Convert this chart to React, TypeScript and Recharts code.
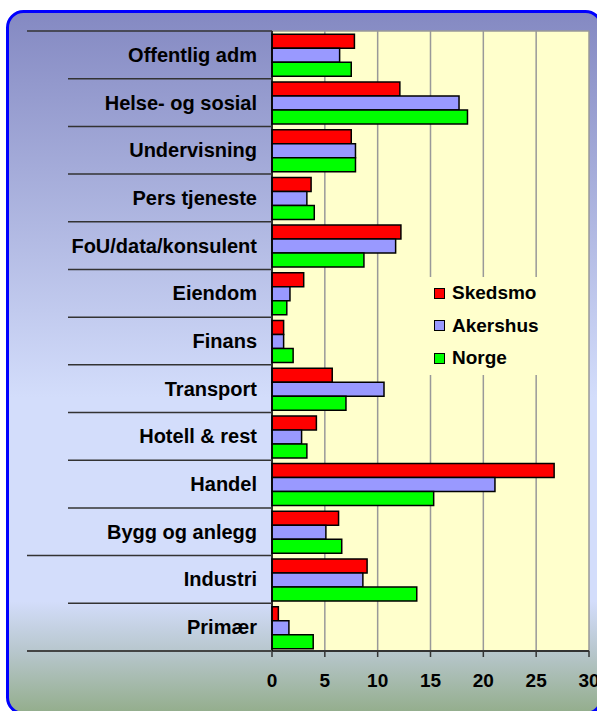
import { Bar, BarChart, CartesianGrid, Legend, XAxis, YAxis } from "recharts";

const categories = [
  "Offentlig adm",
  "Helse- og sosial",
  "Undervisning",
  "Pers tjeneste",
  "FoU/data/konsulent",
  "Eiendom",
  "Finans",
  "Transport",
  "Hotell & rest",
  "Handel",
  "Bygg og anlegg",
  "Industri",
  "Primær",
];
const skedsmo = [7.8, 12.1, 7.5, 3.7, 12.2, 3.0, 1.1, 5.7, 4.2, 26.7, 6.3, 9.0, 0.6];
const akershus = [6.4, 17.7, 7.9, 3.3, 11.7, 1.7, 1.1, 10.6, 2.8, 21.1, 5.1, 8.6, 1.6];
const norge = [7.5, 18.5, 7.9, 4.0, 8.7, 1.4, 2.0, 7.0, 3.3, 15.3, 6.6, 13.7, 3.9];
const xTicks = [0, 5, 10, 15, 20, 25, 30];

const series = [
  { key: "skedsmo", name: "Skedsmo", color: "#FF0000" },
  { key: "akershus", name: "Akershus", color: "#9999FF" },
  { key: "norge", name: "Norge", color: "#00FF00" },
];

const data = categories.map((name, i) => ({
  name,
  skedsmo: skedsmo[i],
  akershus: akershus[i],
  norge: norge[i],
}));

const W = 597;
const H = 711;
const AXIS_X = 272;
const FONT = '"Liberation Sans", Arial, sans-serif';
// categories whose top divider runs all the way to the left
const longLines = [0, 11];

function CategoryTick(props: any) {
  const { x, y, payload, index } = props;
  const half = payload.offset ?? 620 / categories.length / 2;
  const last = index === categories.length - 1;
  return (
    <g>
      <line
        x1={longLines.includes(index) ? 27 : 68}
        x2={AXIS_X}
        y1={y - half}
        y2={y - half}
        stroke="#333"
        strokeWidth={1.5}
      />
      {last && (
        <line x1={27} x2={AXIS_X} y1={y + half} y2={y + half} stroke="#444" strokeWidth={2} />
      )}
      <text
        x={x}
        y={y}
        dy="0.35em"
        textAnchor="end"
        fontFamily={FONT}
        fontWeight={700}
        fontSize={20}
        fill="#000"
      >
        {payload.value}
      </text>
    </g>
  );
}

function LegendBox() {
  return (
    <div style={{ paddingLeft: 10, fontFamily: FONT }}>
      {series.map((s) => (
        <div
          key={s.key}
          style={{ display: "flex", alignItems: "center", height: 32.5 }}
        >
          <span
            style={{
              display: "inline-block",
              width: 9,
              height: 9,
              background: s.color,
              border: "1.5px solid #000",
              marginRight: 7,
            }}
          />
          <span style={{ fontSize: 19, fontWeight: 700, color: "#000" }}>{s.name}</span>
        </div>
      ))}
    </div>
  );
}

export default function App() {
  return (
    <div
      style={{
        position: "fixed",
        left: 0,
        top: 0,
        width: W,
        height: H,
        background: "#fff",
        overflow: "hidden",
      }}
    >
      <svg width={W} height={H} style={{ position: "absolute", left: 0, top: 0 }}>
        <defs>
          <linearGradient id="bg" x1="0" y1="0" x2="0" y2="1">
            <stop offset="0" stopColor="#8489C2" />
            <stop offset="0.55" stopColor="#D3DDFB" />
            <stop offset="0.84" stopColor="#D3DDFB" />
            <stop offset="0.91" stopColor="#B8C7CE" />
            <stop offset="1" stopColor="#93AD8B" />
          </linearGradient>
        </defs>
        <rect
          x={7.5}
          y={11.5}
          width={594}
          height={702}
          rx={16}
          fill="url(#bg)"
          stroke="#0000FF"
          strokeWidth={3}
        />
      </svg>
      <div style={{ position: "absolute", left: 0, top: 0 }}>
        <BarChart
          width={W}
          height={H}
          data={data}
          layout="vertical"
          margin={{ top: 31, right: 8, bottom: 20, left: 0 }}
          barCategoryGap="7%"
          barGap={0}
        >
          <CartesianGrid
            horizontal={true}
            vertical={true}
            fill="#FFFFCC"
            fillOpacity={1}
            stroke="#999"
            strokeWidth={1.5}
            horizontalCoordinatesGenerator={({ offset }: any) => [offset.top]}
          />
          <XAxis
            type="number"
            domain={[0, 30]}
            ticks={xTicks}
            interval={0}
            height={40}
            axisLine={{ stroke: "#333", strokeWidth: 2 }}
            tickLine={{ stroke: "#333", strokeWidth: 1.5 }}
            tickSize={6}
            tickMargin={17}
            tick={{ fontFamily: FONT, fontWeight: 700, fontSize: 19, fill: "#000" }}
          />
          <YAxis
            type="category"
            dataKey="name"
            width={AXIS_X}
            interval={0}
            tickLine={false}
            tickSize={0}
            tickMargin={15}
            axisLine={{ stroke: "#000", strokeWidth: 1.5 }}
            tick={<CategoryTick />}
          />
          <Legend
            layout="vertical"
            align="center"
            verticalAlign="middle"
            wrapperStyle={{ left: 424, top: 277, width: 124, height: 98, background: "#FFFFCC" }}
            content={<LegendBox />}
          />
          {series.map((s) => (
            <Bar
              key={s.key}
              dataKey={s.key}
              name={s.name}
              fill={s.color}
              stroke="#000"
              strokeWidth={1.5}
              isAnimationActive={false}
            />
          ))}
        </BarChart>
      </div>
    </div>
  );
}
